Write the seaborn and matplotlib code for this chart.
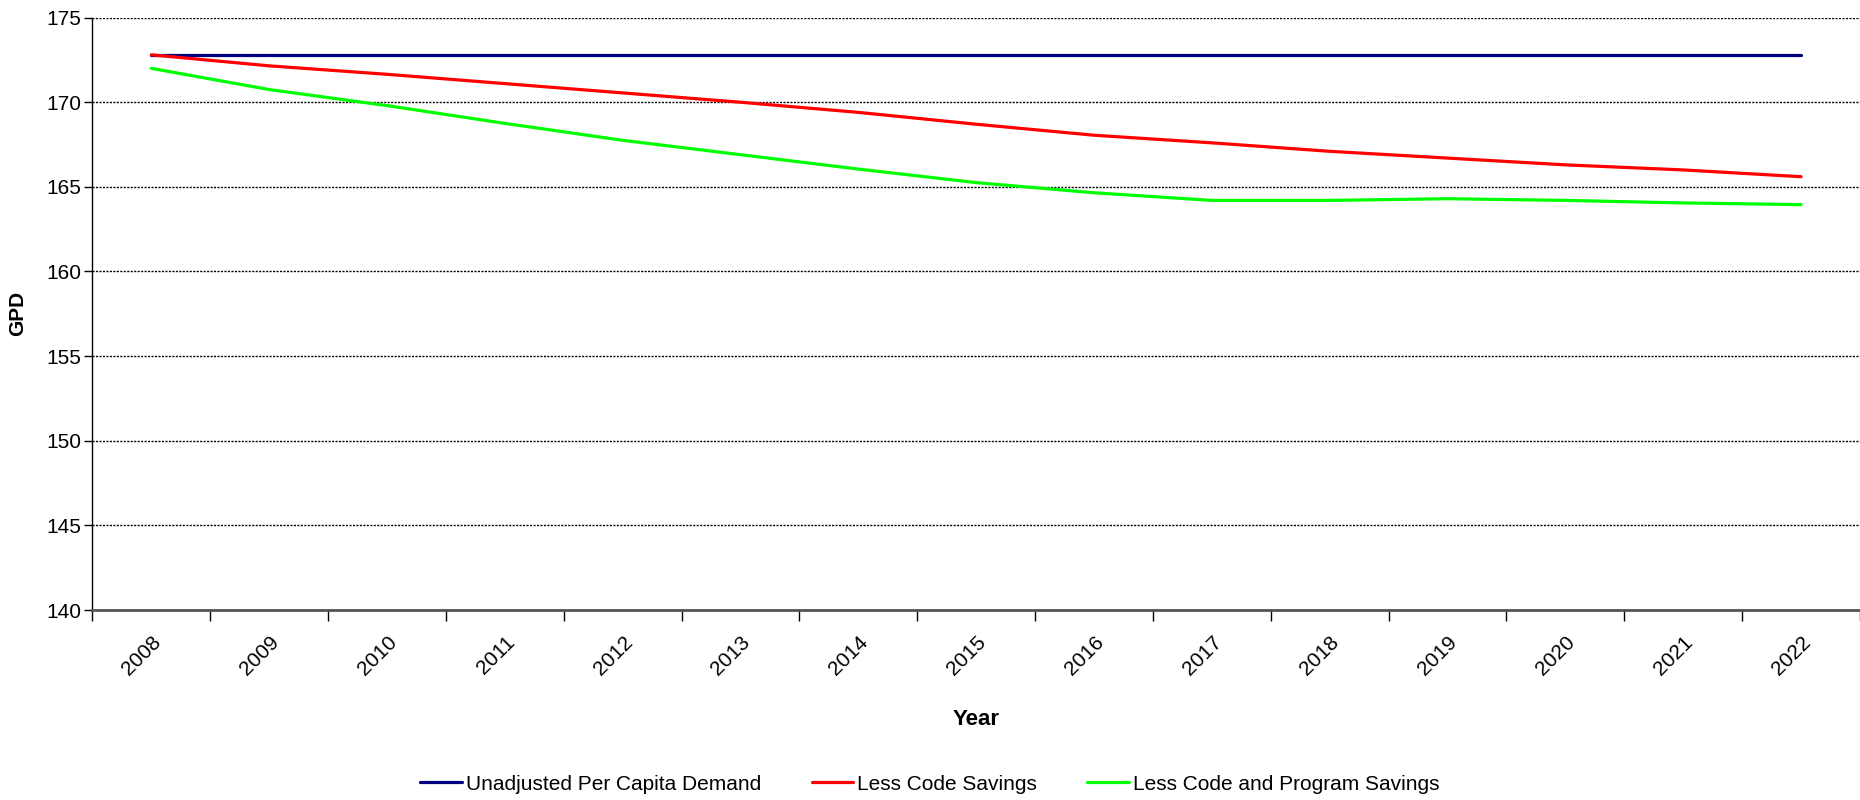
import pandas as pd
import matplotlib
matplotlib.use("Agg")
import matplotlib.pyplot as plt
from matplotlib.ticker import FixedLocator
import seaborn as sns

# Données
years = ["2008", "2009", "2010", "2011", "2012", "2013", "2014", "2015",
         "2016", "2017", "2018", "2019", "2020", "2021", "2022"]
unadjusted = [172.8] * 15
less_code = [172.8, 172.15, 171.65, 171.1, 170.55, 170.0, 169.4, 168.7,
             168.05, 167.6, 167.1, 166.7, 166.3, 166.0, 165.6]
less_code_program = [172.0, 170.75, 169.8, 168.75, 167.75, 166.9, 166.05, 165.25,
                     164.65, 164.2, 164.2, 164.3, 164.2, 164.05, 163.95]

series_names = ["Unadjusted Per Capita Demand", "Less Code Savings",
                "Less Code and Program Savings"]
colors = ["#000080", "#FF0000", "#00FF00"]

df = pd.DataFrame({
    "pos": list(range(len(years))) * 3,
    "GPD": unadjusted + less_code + less_code_program,
    "serie": [n for n in series_names for _ in years],
})

sns.set_style("white")
plt.rcParams["font.family"] = ["Liberation Sans", "DejaVu Sans"]
plt.rcParams["text.color"] = "black"
plt.rcParams["axes.labelcolor"] = "black"
plt.rcParams["xtick.color"] = "black"
plt.rcParams["ytick.color"] = "black"

fig = plt.figure(figsize=(18.6, 8), dpi=100)
ax = fig.add_axes([0.0497, 0.2375, 0.9503, 0.7405])

sns.lineplot(data=df, x="pos", y="GPD", hue="serie", palette=colors,
             linewidth=2.3, ax=ax, legend=True)

ax.set_xlim(-0.5, len(years) - 0.5)
ax.set_ylim(140, 175)
ax.set_yticks(range(140, 176, 5))
ax.tick_params(axis="y", labelsize=15, length=6, width=1, direction="out", left=True,
               pad=2)

# ticks aux limites des catégories, étiquettes au centre
ax.xaxis.set_major_locator(FixedLocator([i - 0.5 for i in range(len(years) + 1)]))
ax.xaxis.set_minor_locator(FixedLocator(list(range(len(years)))))
ax.set_xticklabels([""] * (len(years) + 1))
ax.set_xticklabels(years, minor=True, rotation=45, ha="right", rotation_mode="anchor",
                   fontsize=15)
ax.tick_params(axis="x", which="major", length=8, width=1, direction="out", bottom=True)
ax.tick_params(axis="x", which="minor", length=0, pad=16)

ax.yaxis.grid(True, color="black", linestyle=(0, (1.5, 1)), linewidth=1)
ax.set_axisbelow(True)

for side in ["top", "right"]:
    ax.spines[side].set_visible(False)
ax.spines["left"].set_color("black")
ax.spines["left"].set_linewidth(1)
ax.spines["bottom"].set_color("#555555")
ax.spines["bottom"].set_linewidth(2)

ax.set_xlabel("Year", fontsize=16, fontweight="bold", labelpad=22)
ax.set_ylabel("GPD", fontsize=15, fontweight="bold", labelpad=14)

handles, labels = ax.get_legend_handles_labels()
ax.legend_.remove()
fig.legend(handles, labels, loc="center", bbox_to_anchor=(0.5, 0.02), ncol=3,
           frameon=False, fontsize=15, handlelength=2.0, handletextpad=0.2,
           columnspacing=2.4)

fig.savefig("out.png", dpi=100)
